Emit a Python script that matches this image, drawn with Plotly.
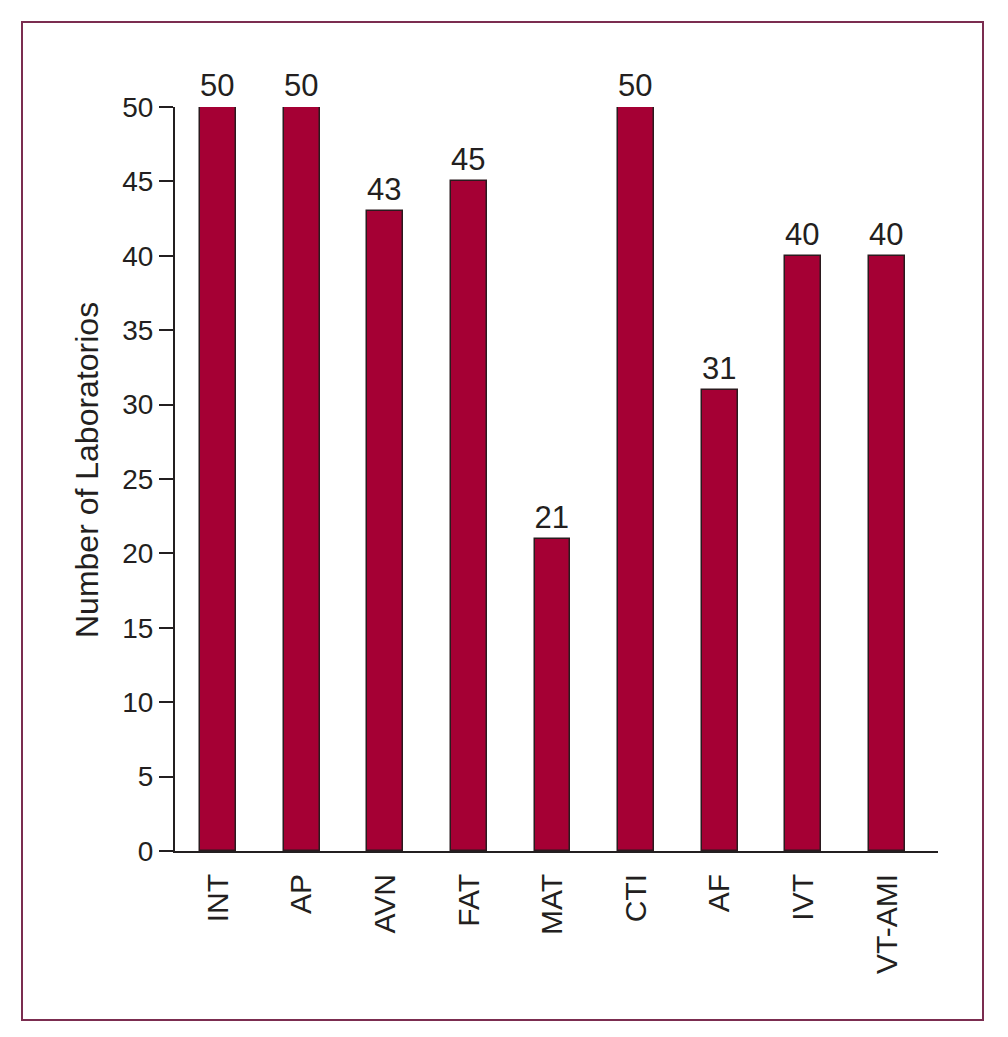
import plotly.graph_objects as go

categories = ["INT", "AP", "AVN", "FAT", "MAT", "CTI", "AF", "IVT", "VT-AMI"]
values = [50, 50, 43, 45, 21, 50, 31, 40, 40]
y_ticks = [0, 5, 10, 15, 20, 25, 30, 35, 40, 45, 50]

FONT = "Liberation Sans, Arial, sans-serif"
TXT = "#231f20"

fig = go.Figure()
fig.add_trace(go.Bar(
    x=list(range(len(categories))),
    y=values,
    width=0.43,
    marker=dict(color="#a50034", line=dict(color="#2b1a1e", width=1.5)),
    text=[str(v) for v in values],
    textposition="outside",
    textfont=dict(family=FONT, size=31, color=TXT),
    cliponaxis=False,
))

fig.update_layout(
    width=1000, height=1029,
    margin=dict(l=167, r=70, t=99, b=186),
    paper_bgcolor="white", plot_bgcolor="white",
    showlegend=False,
    font=dict(family=FONT, color=TXT),
    bargap=0,
)
fig.update_xaxes(
    range=[-0.514, 8.61],
    tickmode="array",
    tickvals=list(range(len(categories))),
    ticktext=categories,
    tickangle=-90,
    tickfont=dict(family=FONT, size=30, color=TXT),
    ticks="",
    ticklabelstandoff=9,
    showline=True, linecolor="#231f20", linewidth=2,
    showgrid=False, zeroline=False,
)
fig.update_yaxes(
    range=[0, 50],
    tickmode="array",
    tickvals=y_ticks,
    tickfont=dict(family=FONT, size=28, color=TXT),
    ticks="outside", ticklen=14, tickwidth=2, tickcolor="#231f20",
    showline=True, linecolor="#231f20", linewidth=2,
    showgrid=False, zeroline=False,
)
fig.add_annotation(
    text="Number of Laboratorios", textangle=-90,
    xref="paper", yref="paper", x=(87 - 175) / 763, y=(851 - 470) / 744,
    xanchor="center", yanchor="middle", showarrow=False,
    font=dict(family=FONT, size=32, color=TXT),
)
fig.add_shape(
    type="rect", xref="paper", yref="paper",
    x0=(22 - 175) / 763, x1=(983 - 175) / 763,
    y0=-(1020 - 851) / 744, y1=1 + (107 - 22) / 744,
    line=dict(color="#7b2d50", width=2), fillcolor="rgba(0,0,0,0)", layer="below",
)

fig.write_html("out.html")
